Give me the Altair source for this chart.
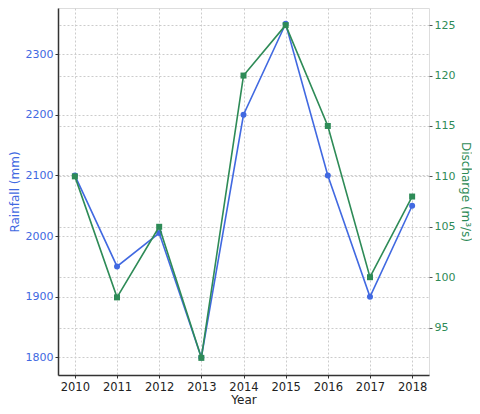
import altair as alt
import pandas as pd

years = [2010, 2011, 2012, 2013, 2014, 2015, 2016, 2017, 2018]
rainfall = [2100, 1950, 2005, 1800, 2200, 2350, 2100, 1900, 2050]
discharge = [110, 98, 105, 92, 120, 125, 115, 100, 108]

BLUE = "#4169E1"
GREEN = "#2E8B57"
FONT = "DejaVu Sans"

df = pd.DataFrame({"Year": years, "Rainfall": rainfall, "Discharge": discharge})

x = alt.X("Year:Q",
          scale=alt.Scale(domain=[2009.6, 2018.4], nice=False, zero=False),
          axis=alt.Axis(values=years, format="d", title="Year",
                        grid=True, gridDash=[2, 2], gridColor="#cccccc",
                        domainColor="#333333", domainWidth=1.5,
                        tickColor="#333333", tickSize=3,
                        labelColor="#222222", labelFontSize=11.5, labelPadding=3,
                        titleFontSize=12, titleFontWeight="normal", titleColor="#222222",
                        titlePadding=2))

rain = alt.Chart(df).mark_line(
    color=BLUE, strokeWidth=1.6,
    point=alt.OverlayMarkDef(shape="circle", filled=True, size=36, color=BLUE)
).encode(
    x=x,
    y=alt.Y("Rainfall:Q",
            scale=alt.Scale(domain=[1771, 2376], nice=False, zero=False),
            axis=alt.Axis(orient="left", values=[1800, 1900, 2000, 2100, 2200, 2300],
                          format="d",
                          title="Rainfall (mm)", grid=True, gridDash=[2, 2], gridColor="#cccccc",
                          domainColor="#333333", domainWidth=1.5,
                          tickColor="#333333", tickSize=3,
                          labelColor=BLUE, labelFontSize=11, labelPadding=2,
                          titleColor=BLUE, titleFontSize=12, titleFontWeight="normal",
                          titlePadding=4))
)

dis = alt.Chart(df).mark_line(
    color=GREEN, strokeWidth=1.6,
    point=alt.OverlayMarkDef(shape="square", filled=True, size=36, color=GREEN)
).encode(
    x=x,
    y=alt.Y("Discharge:Q",
            scale=alt.Scale(domain=[90.3, 126.7], nice=False, zero=False),
            axis=alt.Axis(orient="right", values=[95, 100, 105, 110, 115, 120, 125],
                          format="d",
                          title="Discharge (m³/s)", grid=True, gridDash=[2, 2], gridColor="#cccccc",
                          domain=False,
                          tickColor="#555555", tickSize=3,
                          labelColor=GREEN, labelFontSize=11, labelPadding=2,
                          titleColor=GREEN, titleFontSize=12, titleFontWeight="normal",
                          titlePadding=4))
)

chart = alt.layer(rain, dis).resolve_scale(y="independent").properties(
    width=464, height=398,
    autosize=alt.AutoSizeParams(type="fit", contains="padding"),
    padding={"left": 0, "top": 0, "right": 0, "bottom": 0}
).configure_view(stroke=None).configure(font=FONT)

chart.save("out.html", embed_options={"renderer": "svg", "actions": False})
